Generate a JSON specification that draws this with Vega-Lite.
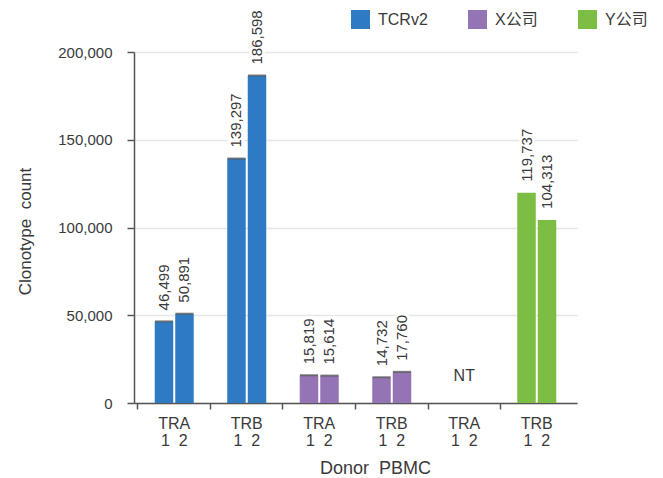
{
  "$schema": "https://vega.github.io/schema/vega-lite/v6.json",
  "width": 443,
  "height": 351,
  "autosize": {"type": "none"},
  "padding": {"left": 134, "top": 52, "right": 86, "bottom": 75},
  "background": "white",
  "config": {
    "view": {"stroke": null},
    "font": "Liberation Sans, Noto Sans CJK SC",
    "axis": {"labelFont": "Liberation Sans, Noto Sans CJK SC", "titleFont": "Liberation Sans, Noto Sans CJK SC", "labelColor": "#3a3a3a", "titleColor": "#3a3a3a", "titleFontWeight": "normal"},
    "legend": {"labelFont": "Liberation Sans, Noto Sans CJK SC"}
  },
  "data": {
    "values": [
      {"company": "TCRv2", "group": "T-TRA", "rep": "1", "value": 46499},
      {"company": "TCRv2", "group": "T-TRA", "rep": "2", "value": 50891},
      {"company": "TCRv2", "group": "T-TRB", "rep": "1", "value": 139297},
      {"company": "TCRv2", "group": "T-TRB", "rep": "2", "value": 186598},
      {"company": "X公司", "group": "X-TRA", "rep": "1", "value": 15819},
      {"company": "X公司", "group": "X-TRA", "rep": "2", "value": 15614},
      {"company": "X公司", "group": "X-TRB", "rep": "1", "value": 14732},
      {"company": "X公司", "group": "X-TRB", "rep": "2", "value": 17760},
      {"company": "Y公司", "group": "Y-TRA", "rep": "1", "value": null, "note": "NT"},
      {"company": "Y公司", "group": "Y-TRB", "rep": "1", "value": 119737},
      {"company": "Y公司", "group": "Y-TRB", "rep": "2", "value": 104313}
    ]
  },
  "encoding": {
    "x": {
      "field": "group",
      "type": "nominal",
      "scale": {"domain": ["T-TRA", "T-TRB", "X-TRA", "X-TRB", "Y-TRA", "Y-TRB"], "paddingInner": 0, "paddingOuter": 0.055},
      "axis": {
        "title": "Donor\u00a0 PBMC",
        "titleFontSize": 18,
        "titleX": 241,
        "titleY": 70,
        "titleAlign": "center",
        "titleBaseline": "alphabetic",
        "labelAngle": 0,
        "labelFontSize": 16,
        "labelLineHeight": 17.5,
        "labelPadding": 6,
        "labelBaseline": "top",
        "labelExpr": "[split(datum.label, '-')[1], '1\u00a0 2']",
        "bandPosition": 0,
        "tickSize": 6,
        "tickColor": "#555555",
        "tickWidth": 1.5,
        "domainColor": "#555555",
        "domainWidth": 1.5,
        "grid": false
      }
    }
  },
  "layer": [
    {
      "transform": [{"filter": "datum.value != null"}],
      "mark": {"type": "bar"},
      "encoding": {
        "xOffset": {"field": "rep", "type": "nominal", "scale": {"domain": ["1", "2"], "paddingInner": 0.0976, "paddingOuter": 0.817}},
        "y": {
          "field": "value",
          "type": "quantitative",
          "scale": {"domain": [0, 200000]},
          "axis": {
            "title": "Clonotype\u00a0 count",
            "titleFontSize": 17,
            "titleX": -104,
            "titleY": 179,
            "titleAngle": -90,
            "titleAlign": "center",
            "titleBaseline": "alphabetic",
            "values": [0, 50000, 100000, 150000, 200000],
            "format": ",d",
            "labelFontSize": 15,
            "labelPadding": 15,
            "tickSize": 7,
            "tickColor": "#555555",
            "tickWidth": 1.5,
            "domainColor": "#555555",
            "domainWidth": 1.5,
            "gridColor": "#e6e6e6",
            "gridWidth": 1.5
          }
        },
        "color": {
          "field": "company",
          "type": "nominal",
          "scale": {"domain": ["TCRv2", "X公司", "Y公司"], "range": ["#2e7bc4", "#9474b4", "#7bbe43"]},
          "legend": {
            "title": null,
            "orient": "none",
            "direction": "horizontal",
            "legendX": 217,
            "legendY": -42,
            "padding": 0,
            "symbolType": "square",
            "symbolSize": 361,
            "symbolStrokeWidth": 0,
            "symbolOpacity": 1,
            "labelFontSize": 16,
            "labelColor": "#3a3a3a",
            "labelOffset": 8,
            "columnPadding": 40
          }
        }
      }
    },
    {
      "transform": [{"filter": "datum.value != null && datum.company != 'Y公司'"}],
      "mark": {"type": "tick", "orient": "horizontal", "size": 18, "thickness": 2, "color": "#555555", "opacity": 0.75},
      "encoding": {
        "xOffset": {"field": "rep", "type": "nominal", "scale": {"domain": ["1", "2"], "paddingInner": 0.0976, "paddingOuter": 0.817}},
        "y": {"field": "value", "type": "quantitative"}
      }
    },
    {
      "transform": [{"filter": "datum.value != null"}],
      "mark": {"type": "text", "angle": 270, "align": "left", "baseline": "middle", "dx": 11, "fontSize": 15, "color": "white", "stroke": "white", "strokeWidth": 6},
      "encoding": {
        "xOffset": {"field": "rep", "type": "nominal", "scale": {"domain": ["1", "2"], "paddingInner": 0.0976, "paddingOuter": 0.817}},
        "y": {"field": "value", "type": "quantitative"},
        "text": {"field": "value", "type": "quantitative", "format": ",d"}
      }
    },
    {
      "transform": [{"filter": "datum.value != null"}],
      "mark": {"type": "text", "angle": 270, "align": "left", "baseline": "middle", "dx": 11, "fontSize": 15, "color": "#3a3a3a"},
      "encoding": {
        "xOffset": {"field": "rep", "type": "nominal", "scale": {"domain": ["1", "2"], "paddingInner": 0.0976, "paddingOuter": 0.817}},
        "y": {"field": "value", "type": "quantitative"},
        "text": {"field": "value", "type": "quantitative", "format": ",d"}
      }
    },
    {
      "transform": [{"filter": "datum.note != null"}],
      "mark": {"type": "text", "align": "center", "baseline": "alphabetic", "fontSize": 16, "color": "#3a3a3a"},
      "encoding": {
        "y": {"datum": 12700, "type": "quantitative"},
        "text": {"field": "note", "type": "nominal"}
      }
    }
  ]
}
